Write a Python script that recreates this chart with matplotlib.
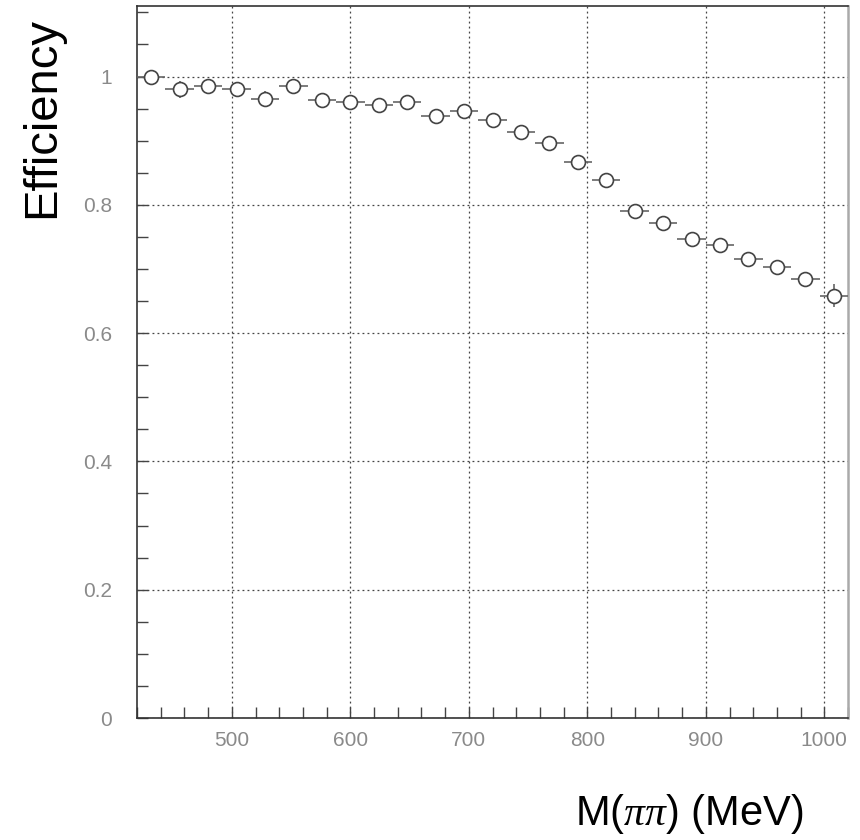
import matplotlib
matplotlib.use("Agg")
import matplotlib.pyplot as plt
from matplotlib.ticker import MultipleLocator, FuncFormatter
import numpy as np

plt.rcParams['font.family'] = ['Liberation Sans', 'DejaVu Sans']
plt.rcParams['mathtext.fontset'] = 'custom'
plt.rcParams['mathtext.it'] = 'Liberation Serif:italic'
plt.rcParams['mathtext.rm'] = 'Liberation Sans'

# Data: bin centres (MeV), efficiency, errors
mass = [432, 456, 480, 504, 528, 552, 576, 600, 624, 648, 672, 696, 720,
        744, 768, 792, 816, 840, 864, 888, 912, 936, 960, 984, 1008]
eff = [0.999, 0.980, 0.986, 0.980, 0.965, 0.985, 0.963, 0.960, 0.956, 0.961,
       0.938, 0.947, 0.933, 0.914, 0.897, 0.867, 0.838, 0.791, 0.772, 0.747,
       0.737, 0.716, 0.703, 0.684, 0.658]
eff_err = [0.008, 0.013, 0.009, 0.009, 0.012, 0.009, 0.008, 0.008, 0.008, 0.008,
           0.008, 0.008, 0.008, 0.008, 0.008, 0.008, 0.008, 0.008, 0.008, 0.008,
           0.008, 0.008, 0.008, 0.008, 0.018]
bin_half = [12] * len(mass)

fig = plt.figure(figsize=(8.6, 8.4), dpi=100)
ax = fig.add_axes([137/860, 1-718/840, (848-137)/860, (718-6)/840])

ax.errorbar(mass, eff, yerr=eff_err, xerr=bin_half, fmt='none',
            ecolor='#666666', elinewidth=1.2, capsize=0, zorder=3)
ax.plot(mass, eff, 'o', markersize=10, markerfacecolor='white',
        markeredgecolor='#444444', markeredgewidth=1.2, zorder=4)

ax.set_xlim(420, 1020)
ax.set_ylim(0, 1.11)

ax.xaxis.set_major_locator(MultipleLocator(100))
ax.xaxis.set_minor_locator(MultipleLocator(20))
ax.yaxis.set_major_locator(MultipleLocator(0.2))
ax.yaxis.set_minor_locator(MultipleLocator(0.05))

def yfmt(v, pos):
    if abs(v) < 1e-9:
        return '0'
    if abs(v - 1) < 1e-9:
        return '1'
    return ('%.1f' % v)
ax.yaxis.set_major_formatter(FuncFormatter(yfmt))
ax.xaxis.set_major_formatter(FuncFormatter(lambda v, p: '%d' % v))

ax.tick_params(axis='both', which='both', direction='in', top=False, right=False,
               color='#444444', width=1.0)
ax.tick_params(axis='both', which='major', length=8, labelsize=15, labelcolor='#8a8a8a')
ax.tick_params(axis='both', which='minor', length=8)
ax.tick_params(axis='x', which='major', pad=9)
ax.tick_params(axis='y', which='major', pad=18)
for lab in ax.get_xticklabels() + ax.get_yticklabels():
    lab.set_fontweight('light')

ax.grid(True, which='major', linestyle=(0, (1.5, 2.5)), color='#444444', linewidth=0.9)
ax.set_axisbelow(True)

for s in ['left', 'bottom', 'top']:
    ax.spines[s].set_color('#333333')
    ax.spines[s].set_linewidth(1.2)
ax.spines['right'].set_color('#aaaaaa')
ax.spines['right'].set_linewidth(1.8)

fig.text(42/860, 1-118/840, 'Efficiency', rotation=90, ha='center', va='center',
         fontsize=34, color='black')
fig.text(803/860, 1-814/840, r'M($\pi\pi$) (MeV)', ha='right', va='center',
         fontsize=30, color='black')

fig.savefig('out.png', dpi=100)
